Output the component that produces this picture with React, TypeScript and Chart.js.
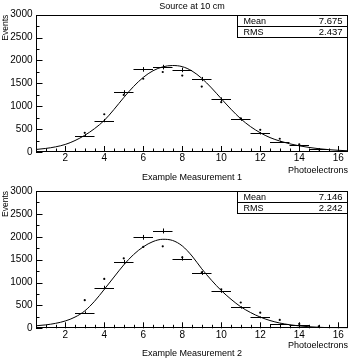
import { useEffect, useRef } from "react";
import { Chart, registerables } from "chart.js";

Chart.register(...registerables);

// Histogram bin centres (bin width 1 photoelectron)
const binCenters = [3, 4, 5, 6, 7, 8, 9, 10, 11, 12, 13, 14, 15];

// Measurement 1
const bins1 = [360, 686, 1306, 1805, 1855, 1794, 1594, 1153, 712, 409, 226, 153, 73];
const errs1 = [30, 36, 44, 50, 50, 50, 46, 40, 32, 26, 20, 16, 12];
const dots1 = [420, 825, 1247, 1600, 1748, 1670, 1430, 1088, 735, 485, 290, 165, 58];

// Measurement 2
const bins2 = [342, 890, 1449, 1988, 2127, 1525, 1208, 808, 455, 240, 87, 65, 36];
const errs2 = [28, 40, 46, 52, 54, 46, 42, 34, 26, 20, 14, 12, 10];
const dots2 = [615, 1078, 1529, 1777, 1792, 1551, 1223, 852, 564, 342, 182, 95, 44];

// Fitted curves sampled every half photoelectron
const curveX = [
  0.5, 1, 1.5, 2, 2.5, 3, 3.5, 4, 4.5, 5, 5.5, 6, 6.5, 7, 7.5, 8, 8.5,
  9, 9.5, 10, 10.5, 11, 11.5, 12, 12.5, 13, 13.5, 14, 14.5, 15, 15.5, 16, 16.5,
];
const curve1 = [
  55, 78, 112, 165, 250, 365, 510, 690, 930, 1190, 1430, 1630, 1775, 1860, 1890, 1865, 1770,
  1610, 1400, 1165, 935, 725, 555, 420, 315, 240, 180, 135, 100, 72, 52, 37, 26,
];
const curve2 = [
  55, 75, 108, 160, 245, 380, 590, 850, 1120, 1385, 1610, 1780, 1895, 1945, 1920, 1800, 1580,
  1300, 1050, 825, 635, 470, 345, 245, 170, 115, 78, 52, 34, 22, 14, 9, 6,
];

// Axis tick labels
const xTickValues = [2, 4, 6, 8, 10, 12, 14, 16];
const yTickValues = [0, 500, 1000, 1500, 2000, 2500, 3000];

const FONT = "'Liberation Sans', Arial, Helvetica, sans-serif";

type PanelConfig = {
  title?: string;
  caption: string;
  bins: number[];
  errs: number[];
  dots: number[];
  curve: number[];
  mean: string;
  rms: string;
  padTop: number;
  padBottom: number;
  xScaleHeight: number;
  captionPadTop: number;
};

const decorPlugin = {
  id: "decor",
  afterDatasetsDraw(chart: any, _args: any, opts: any) {
    const { ctx, scales } = chart;
    const x = scales.x;
    const y = scales.y;
    const bins = chart.data.datasets[0].data as { x: number; y: number }[];
    ctx.save();
    ctx.strokeStyle = "#000";
    ctx.lineWidth = 1;
    ctx.beginPath();
    bins.forEach((p, i) => {
      const yp = Math.round(y.getPixelForValue(p.y)) + 0.5;
      ctx.moveTo(x.getPixelForValue(p.x - 0.5), yp);
      ctx.lineTo(x.getPixelForValue(p.x + 0.5), yp);
      const xc = Math.round(x.getPixelForValue(p.x)) + 0.5;
      ctx.moveTo(xc, y.getPixelForValue(p.y + opts.errs[i]));
      ctx.lineTo(xc, y.getPixelForValue(p.y - opts.errs[i]));
    });
    ctx.stroke();
    ctx.restore();
  },
  afterDraw(chart: any, _args: any, opts: any) {
    const { ctx, chartArea: a, scales } = chart;
    const x = scales.x;
    const y = scales.y;
    ctx.save();
    ctx.strokeStyle = "#000";
    ctx.lineWidth = 1;

    // inward tick marks
    ctx.beginPath();
    for (let v = 1; v <= 16; v += 0.5) {
      const px = Math.round(x.getPixelForValue(v)) + 0.5;
      const len = v % 2 === 0 ? 6 : 3.5;
      ctx.moveTo(px, a.bottom);
      ctx.lineTo(px, a.bottom - len);
    }
    for (let v = 0; v <= 3000; v += 250) {
      const py = Math.round(y.getPixelForValue(v)) + 0.5;
      const len = v % 500 === 0 ? 6.5 : 3.5;
      ctx.moveTo(a.left, py);
      ctx.lineTo(a.left + len, py);
    }
    ctx.stroke();

    // frame
    ctx.strokeRect(Math.round(a.left) + 0.5, Math.round(a.top) + 0.5,
      Math.round(a.right) - Math.round(a.left) - 1, Math.round(a.bottom) - Math.round(a.top) - 1);

    // statistics box
    const bw = 110;
    const bh = 22;
    const bx = Math.round(a.right) - bw - 0.5;
    const by = Math.round(a.top) + 0.5;
    ctx.fillStyle = "#fff";
    ctx.fillRect(bx, by, bw, bh);
    ctx.strokeRect(bx, by, bw, bh);
    ctx.beginPath();
    ctx.moveTo(bx, by + 11);
    ctx.lineTo(bx + bw, by + 11);
    ctx.stroke();
    ctx.fillStyle = "#000";
    ctx.font = `9px ${FONT}`;
    ctx.textBaseline = "middle";
    ctx.textAlign = "left";
    ctx.fillText("Mean", bx + 6, by + 6);
    ctx.fillText("RMS", bx + 6, by + 17);
    ctx.textAlign = "right";
    ctx.font = `9.5px ${FONT}`;
    ctx.fillText(opts.mean, bx + bw - 5, by + 6);
    ctx.fillText(opts.rms, bx + bw - 5, by + 17);
    ctx.restore();
  },
};

function Panel({ cfg }: { cfg: PanelConfig }) {
  const ref = useRef<HTMLCanvasElement | null>(null);

  useEffect(() => {
    if (!ref.current) return;
    const chart = new Chart(ref.current, {
      type: "scatter",
      data: {
        datasets: [
          {
            label: "bins",
            data: binCenters.map((c, i) => ({ x: c, y: cfg.bins[i] })),
            pointRadius: 0,
            borderWidth: 0,
          },
          {
            label: "points",
            data: binCenters.map((c, i) => ({ x: c, y: cfg.dots[i] })),
            pointRadius: 1.1,
            pointBorderWidth: 0,
            backgroundColor: "#000",
            borderColor: "#000",
          },
          {
            label: "fit",
            data: curveX.map((c, i) => ({ x: c, y: cfg.curve[i] })),
            showLine: true,
            pointRadius: 0,
            borderColor: "#000",
            borderWidth: 1,
            cubicInterpolationMode: "monotone",
          } as any,
        ],
      },
      options: {
        animation: false,
        responsive: true,
        maintainAspectRatio: false,
        events: [],
        layout: { padding: { top: cfg.padTop, right: 2.3, bottom: cfg.padBottom, left: 0 } },
        plugins: {
          legend: { display: false },
          tooltip: { enabled: false },
          title: {
            display: !!cfg.title,
            text: cfg.title ?? "",
            fullSize: false,
            color: "#000",
            font: { family: FONT, size: 9, weight: "normal", lineHeight: 1.2 },
            padding: { top: 1.5, bottom: 2.4 },
          },
          subtitle: {
            display: true,
            position: "bottom",
            text: cfg.caption,
            fullSize: false,
            color: "#000",
            font: { family: FONT, size: 9, weight: "normal", lineHeight: 0.8 },
            padding: { top: cfg.captionPadTop, bottom: 0 },
          },
          decor: { errs: cfg.errs, mean: cfg.mean, rms: cfg.rms },
        } as any,
        scales: {
          x: {
            type: "linear",
            min: 0.5,
            max: 16.5,
            grid: { display: false, drawTicks: false },
            border: { display: false },
            ticks: {
              color: "#000",
              font: { family: FONT, size: 10, lineHeight: 1.2 },
              padding: 0.5,
              maxRotation: 0,
              autoSkip: false,
              callback: (v: any) => String(v),
            },
            afterBuildTicks: (s: any) => {
              s.ticks = xTickValues.map((v) => ({ value: v }));
            },
            afterFit: (s: any) => {
              s.height = cfg.xScaleHeight;
            },
            title: {
              display: true,
              text: "Photoelectrons",
              align: "end",
              color: "#000",
              font: { family: FONT, size: 9, lineHeight: 0.8 },
              padding: 0,
            },
          },
          y: {
            type: "linear",
            min: 0,
            max: 3000,
            grid: { display: false, drawTicks: false },
            border: { display: false },
            ticks: {
              color: "#000",
              font: { family: FONT, size: 10, lineHeight: 1.2 },
              padding: 3.5,
              callback: (v: any) => String(v),
            },
            afterBuildTicks: (s: any) => {
              s.ticks = yTickValues.map((v) => ({ value: v }));
            },
            afterFit: (s: any) => {
              s.width = 36;
            },
            title: {
              display: true,
              text: "Events",
              align: "end",
              color: "#000",
              font: { family: FONT, size: 8.5, lineHeight: 1.2 },
              padding: { top: 0.6, bottom: 0 },
            },
          },
        },
      },
      plugins: [decorPlugin],
    });
    return () => chart.destroy();
  }, [cfg]);

  return (
    <div style={{ position: "relative", width: 352, height: 181 }}>
      <canvas ref={ref} />
    </div>
  );
}

const panel1: PanelConfig = {
  title: "Source at 10 cm",
  caption: "Example Measurement 1",
  bins: bins1,
  errs: errs1,
  dots: dots1,
  curve: curve1,
  mean: "7.675",
  rms: "2.437",
  padTop: 0,
  padBottom: 0,
  xScaleHeight: 21.8,
  captionPadTop: 0,
};

const panel2: PanelConfig = {
  caption: "Example Measurement 2",
  bins: bins2,
  errs: errs2,
  dots: dots2,
  curve: curve2,
  mean: "7.146",
  rms: "2.242",
  padTop: 10,
  padBottom: 4.5,
  xScaleHeight: 21,
  captionPadTop: 1,
};

export default function App() {
  return (
    <div style={{ position: "absolute", left: 0, top: 0, width: 352, height: 362, background: "#fff" }}>
      <Panel cfg={panel1} />
      <Panel cfg={panel2} />
    </div>
  );
}
